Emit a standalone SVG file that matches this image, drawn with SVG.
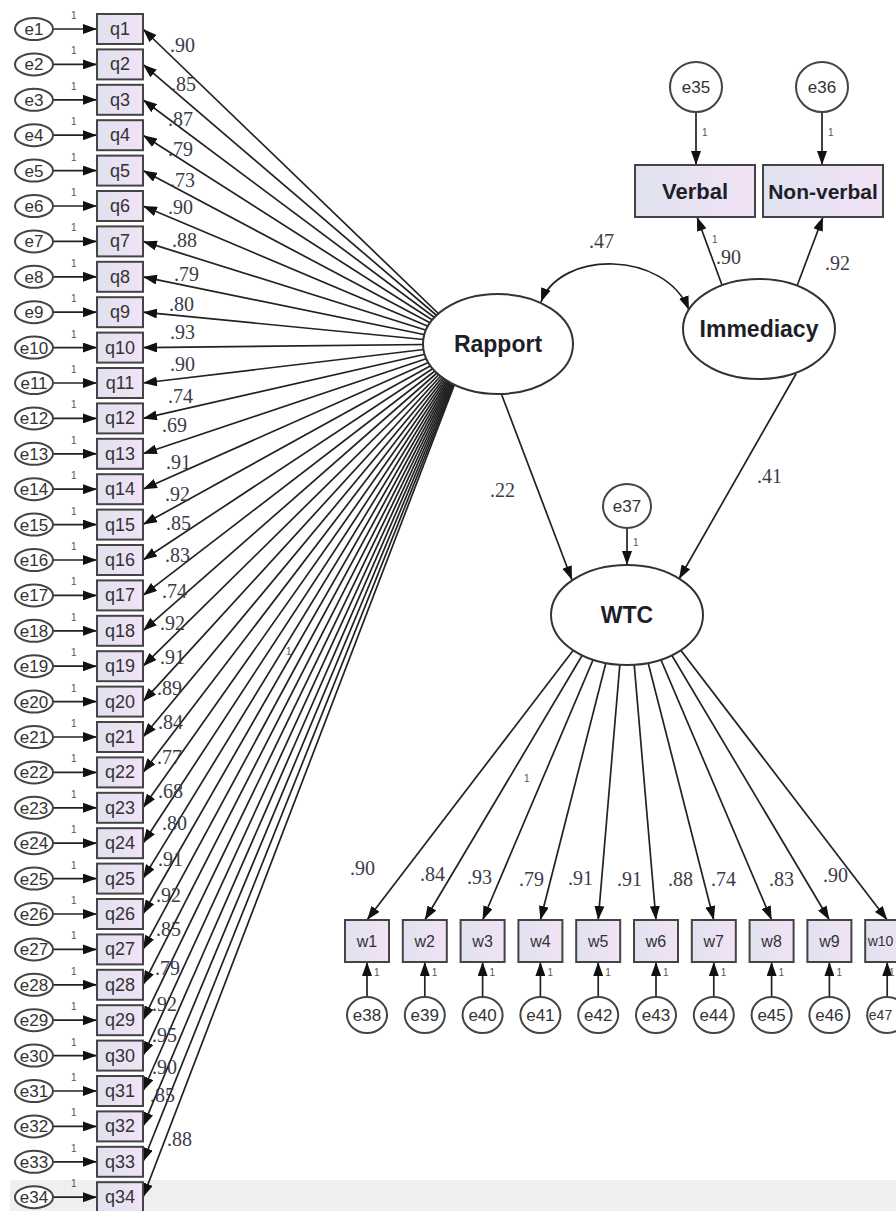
<svg xmlns="http://www.w3.org/2000/svg" width="896" height="1211" viewBox="0 0 896 1211">
<style>
.box{fill:url(#bg);stroke:#444;stroke-width:2}
.err{fill:#fff;stroke:#444;stroke-width:2}
.lat{fill:#fff;stroke:#333;stroke-width:2}
.t{font-family:"Liberation Sans",Arial,sans-serif;fill:#333;text-anchor:middle}
.tq{font-size:18px}
.te{font-size:17px}
.tb{font-weight:bold;fill:#1e1e28;font-size:23px}
.lbl{font-family:"Liberation Serif","Times New Roman",serif;font-size:20px;fill:#3b3b4a}
.one{font-family:"Liberation Sans",Arial,sans-serif;font-size:10px;fill:#555}
.c path{stroke:#222;stroke-width:1.7;fill:none}
</style>
<defs>
<linearGradient id="bg" x1="0" y1="0" x2="1" y2="0"><stop offset="0" stop-color="#dfe2f0"/><stop offset="1" stop-color="#f2e2f6"/></linearGradient>
<marker id="ah" viewBox="0 0 14 10" refX="14" refY="5" markerWidth="14" markerHeight="10" markerUnits="userSpaceOnUse" orient="auto"><path d="M0,0 L14,5 L0,10 z" fill="#111"/></marker>
<marker id="ahs" viewBox="0 0 14 10" refX="14" refY="5" markerWidth="14" markerHeight="10" markerUnits="userSpaceOnUse" orient="auto-start-reverse"><path d="M0,0 L14,5 L0,10 z" fill="#111"/></marker>
</defs>
<rect x="0" y="0" width="896" height="1211" fill="#fff"/>
<rect x="10" y="1180" width="886" height="31" fill="#efefef"/>

<g id="connectors" class="c">
<g marker-end="url(#ah)">
<path d="M53 29H97"/><path d="M53 64.4H97"/><path d="M53 99.8H97"/><path d="M53 135.2H97"/><path d="M53 170.6H97"/><path d="M53 206H97"/><path d="M53 241.4H97"/><path d="M53 276.8H97"/><path d="M53 312.2H97"/><path d="M53 347.6H97"/><path d="M53 383H97"/><path d="M53 418.4H97"/><path d="M53 453.8H97"/><path d="M53 489.2H97"/><path d="M53 524.6H97"/><path d="M53 560H97"/><path d="M53 595.4H97"/><path d="M53 630.8H97"/><path d="M53 666.2H97"/><path d="M53 701.6H97"/><path d="M53 737H97"/><path d="M53 772.4H97"/><path d="M53 807.8H97"/><path d="M53 843.2H97"/><path d="M53 878.6H97"/><path d="M53 914H97"/><path d="M53 949.4H97"/><path d="M53 984.8H97"/><path d="M53 1020.2H97"/><path d="M53 1055.6H97"/><path d="M53 1091H97"/><path d="M53 1126.4H97"/><path d="M53 1161.8H97"/><path d="M53 1197.2H97"/>
</g>
<g marker-end="url(#ah)">
<path d="M470 344L143 29"/><path d="M470 344L143 64.4"/><path d="M470 344L143 99.8"/><path d="M470 344L143 135.2"/><path d="M470 344L143 170.6"/><path d="M470 344L143 206"/><path d="M470 344L143 241.4"/><path d="M470 344L143 276.8"/><path d="M470 344L143 312.2"/><path d="M470 344L143 347.6"/><path d="M470 344L143 383"/><path d="M470 344L143 418.4"/><path d="M470 344L143 453.8"/><path d="M470 344L143 489.2"/><path d="M470 344L143 524.6"/><path d="M470 344L143 560"/><path d="M470 344L143 595.4"/><path d="M470 344L143 630.8"/><path d="M470 344L143 666.2"/><path d="M470 344L143 701.6"/><path d="M470 344L143 737"/><path d="M470 344L143 772.4"/><path d="M470 344L143 807.8"/><path d="M470 344L143 843.2"/><path d="M470 344L143 878.6"/><path d="M470 344L143 914"/><path d="M470 344L143 949.4"/><path d="M470 344L143 984.8"/><path d="M470 344L143 1020.2"/><path d="M470 344L143 1055.6"/><path d="M470 344L143 1091"/><path d="M470 344L143 1126.4"/><path d="M470 344L143 1161.8"/><path d="M470 344L143 1197.2"/>
</g>
<g marker-end="url(#ah)">
<path d="M696 112V165"/><path d="M822 112V165"/>
<path d="M722 285L697 217"/><path d="M797 286L823 217"/>
<path d="M501 393L572 580"/><path d="M796 374L679 579"/>
<path d="M627 528V565"/>
</g>
<path d="M541 302C560 250 665 250 689 310" marker-start="url(#ahs)" marker-end="url(#ahs)"/>
<g marker-end="url(#ah)">
<path d="M627 580L367 920"/><path d="M627 580L424.8 920"/><path d="M627 580L482.6 920"/><path d="M627 580L540.4 920"/><path d="M627 580L598.2 920"/><path d="M627 580L656 920"/><path d="M627 580L713.8 920"/><path d="M627 580L771.6 920"/><path d="M627 580L829.4 920"/><path d="M627 580L887.2 920"/>
</g>
<g marker-end="url(#ah)">
<path d="M367 997V962"/><path d="M424.8 997V962"/><path d="M482.6 997V962"/><path d="M540.4 997V962"/><path d="M598.2 997V962"/><path d="M656 997V962"/><path d="M713.8 997V962"/><path d="M771.6 997V962"/><path d="M829.4 997V962"/><path d="M887.2 997V962"/>
</g>
</g>

<g id="q1" transform="translate(0,29)"><rect class="box" x="97" y="-15" width="46" height="30"/><text class="t tq" x="120" y="6">q1</text></g>
<g id="q2" transform="translate(0,64.4)"><rect class="box" x="97" y="-15" width="46" height="30"/><text class="t tq" x="120" y="6">q2</text></g>
<g id="q3" transform="translate(0,99.8)"><rect class="box" x="97" y="-15" width="46" height="30"/><text class="t tq" x="120" y="6">q3</text></g>
<g id="q4" transform="translate(0,135.2)"><rect class="box" x="97" y="-15" width="46" height="30"/><text class="t tq" x="120" y="6">q4</text></g>
<g id="q5" transform="translate(0,170.6)"><rect class="box" x="97" y="-15" width="46" height="30"/><text class="t tq" x="120" y="6">q5</text></g>
<g id="q6" transform="translate(0,206)"><rect class="box" x="97" y="-15" width="46" height="30"/><text class="t tq" x="120" y="6">q6</text></g>
<g id="q7" transform="translate(0,241.4)"><rect class="box" x="97" y="-15" width="46" height="30"/><text class="t tq" x="120" y="6">q7</text></g>
<g id="q8" transform="translate(0,276.8)"><rect class="box" x="97" y="-15" width="46" height="30"/><text class="t tq" x="120" y="6">q8</text></g>
<g id="q9" transform="translate(0,312.2)"><rect class="box" x="97" y="-15" width="46" height="30"/><text class="t tq" x="120" y="6">q9</text></g>
<g id="q10" transform="translate(0,347.6)"><rect class="box" x="97" y="-15" width="46" height="30"/><text class="t tq" x="120" y="6">q10</text></g>
<g id="q11" transform="translate(0,383)"><rect class="box" x="97" y="-15" width="46" height="30"/><text class="t tq" x="120" y="6">q11</text></g>
<g id="q12" transform="translate(0,418.4)"><rect class="box" x="97" y="-15" width="46" height="30"/><text class="t tq" x="120" y="6">q12</text></g>
<g id="q13" transform="translate(0,453.8)"><rect class="box" x="97" y="-15" width="46" height="30"/><text class="t tq" x="120" y="6">q13</text></g>
<g id="q14" transform="translate(0,489.2)"><rect class="box" x="97" y="-15" width="46" height="30"/><text class="t tq" x="120" y="6">q14</text></g>
<g id="q15" transform="translate(0,524.6)"><rect class="box" x="97" y="-15" width="46" height="30"/><text class="t tq" x="120" y="6">q15</text></g>
<g id="q16" transform="translate(0,560)"><rect class="box" x="97" y="-15" width="46" height="30"/><text class="t tq" x="120" y="6">q16</text></g>
<g id="q17" transform="translate(0,595.4)"><rect class="box" x="97" y="-15" width="46" height="30"/><text class="t tq" x="120" y="6">q17</text></g>
<g id="q18" transform="translate(0,630.8)"><rect class="box" x="97" y="-15" width="46" height="30"/><text class="t tq" x="120" y="6">q18</text></g>
<g id="q19" transform="translate(0,666.2)"><rect class="box" x="97" y="-15" width="46" height="30"/><text class="t tq" x="120" y="6">q19</text></g>
<g id="q20" transform="translate(0,701.6)"><rect class="box" x="97" y="-15" width="46" height="30"/><text class="t tq" x="120" y="6">q20</text></g>
<g id="q21" transform="translate(0,737)"><rect class="box" x="97" y="-15" width="46" height="30"/><text class="t tq" x="120" y="6">q21</text></g>
<g id="q22" transform="translate(0,772.4)"><rect class="box" x="97" y="-15" width="46" height="30"/><text class="t tq" x="120" y="6">q22</text></g>
<g id="q23" transform="translate(0,807.8)"><rect class="box" x="97" y="-15" width="46" height="30"/><text class="t tq" x="120" y="6">q23</text></g>
<g id="q24" transform="translate(0,843.2)"><rect class="box" x="97" y="-15" width="46" height="30"/><text class="t tq" x="120" y="6">q24</text></g>
<g id="q25" transform="translate(0,878.6)"><rect class="box" x="97" y="-15" width="46" height="30"/><text class="t tq" x="120" y="6">q25</text></g>
<g id="q26" transform="translate(0,914)"><rect class="box" x="97" y="-15" width="46" height="30"/><text class="t tq" x="120" y="6">q26</text></g>
<g id="q27" transform="translate(0,949.4)"><rect class="box" x="97" y="-15" width="46" height="30"/><text class="t tq" x="120" y="6">q27</text></g>
<g id="q28" transform="translate(0,984.8)"><rect class="box" x="97" y="-15" width="46" height="30"/><text class="t tq" x="120" y="6">q28</text></g>
<g id="q29" transform="translate(0,1020.2)"><rect class="box" x="97" y="-15" width="46" height="30"/><text class="t tq" x="120" y="6">q29</text></g>
<g id="q30" transform="translate(0,1055.6)"><rect class="box" x="97" y="-15" width="46" height="30"/><text class="t tq" x="120" y="6">q30</text></g>
<g id="q31" transform="translate(0,1091)"><rect class="box" x="97" y="-15" width="46" height="30"/><text class="t tq" x="120" y="6">q31</text></g>
<g id="q32" transform="translate(0,1126.4)"><rect class="box" x="97" y="-15" width="46" height="30"/><text class="t tq" x="120" y="6">q32</text></g>
<g id="q33" transform="translate(0,1161.8)"><rect class="box" x="97" y="-15" width="46" height="30"/><text class="t tq" x="120" y="6">q33</text></g>
<g id="q34" transform="translate(0,1197.2)"><rect class="box" x="97" y="-15" width="46" height="30"/><text class="t tq" x="120" y="6">q34</text></g>

<g id="e1" transform="translate(34,29)"><ellipse class="err" rx="19" ry="11"/><text class="t te" y="6">e1</text><text class="one" x="37" y="-10">1</text></g>
<g id="e2" transform="translate(34,64.4)"><ellipse class="err" rx="19" ry="11"/><text class="t te" y="6">e2</text><text class="one" x="37" y="-10">1</text></g>
<g id="e3" transform="translate(34,99.8)"><ellipse class="err" rx="19" ry="11"/><text class="t te" y="6">e3</text><text class="one" x="37" y="-10">1</text></g>
<g id="e4" transform="translate(34,135.2)"><ellipse class="err" rx="19" ry="11"/><text class="t te" y="6">e4</text><text class="one" x="37" y="-10">1</text></g>
<g id="e5" transform="translate(34,170.6)"><ellipse class="err" rx="19" ry="11"/><text class="t te" y="6">e5</text><text class="one" x="37" y="-10">1</text></g>
<g id="e6" transform="translate(34,206)"><ellipse class="err" rx="19" ry="11"/><text class="t te" y="6">e6</text><text class="one" x="37" y="-10">1</text></g>
<g id="e7" transform="translate(34,241.4)"><ellipse class="err" rx="19" ry="11"/><text class="t te" y="6">e7</text><text class="one" x="37" y="-10">1</text></g>
<g id="e8" transform="translate(34,276.8)"><ellipse class="err" rx="19" ry="11"/><text class="t te" y="6">e8</text><text class="one" x="37" y="-10">1</text></g>
<g id="e9" transform="translate(34,312.2)"><ellipse class="err" rx="19" ry="11"/><text class="t te" y="6">e9</text><text class="one" x="37" y="-10">1</text></g>
<g id="e10" transform="translate(34,347.6)"><ellipse class="err" rx="19" ry="11"/><text class="t te" y="6">e10</text><text class="one" x="37" y="-10">1</text></g>
<g id="e11" transform="translate(34,383)"><ellipse class="err" rx="19" ry="11"/><text class="t te" y="6">e11</text><text class="one" x="37" y="-10">1</text></g>
<g id="e12" transform="translate(34,418.4)"><ellipse class="err" rx="19" ry="11"/><text class="t te" y="6">e12</text><text class="one" x="37" y="-10">1</text></g>
<g id="e13" transform="translate(34,453.8)"><ellipse class="err" rx="19" ry="11"/><text class="t te" y="6">e13</text><text class="one" x="37" y="-10">1</text></g>
<g id="e14" transform="translate(34,489.2)"><ellipse class="err" rx="19" ry="11"/><text class="t te" y="6">e14</text><text class="one" x="37" y="-10">1</text></g>
<g id="e15" transform="translate(34,524.6)"><ellipse class="err" rx="19" ry="11"/><text class="t te" y="6">e15</text><text class="one" x="37" y="-10">1</text></g>
<g id="e16" transform="translate(34,560)"><ellipse class="err" rx="19" ry="11"/><text class="t te" y="6">e16</text><text class="one" x="37" y="-10">1</text></g>
<g id="e17" transform="translate(34,595.4)"><ellipse class="err" rx="19" ry="11"/><text class="t te" y="6">e17</text><text class="one" x="37" y="-10">1</text></g>
<g id="e18" transform="translate(34,630.8)"><ellipse class="err" rx="19" ry="11"/><text class="t te" y="6">e18</text><text class="one" x="37" y="-10">1</text></g>
<g id="e19" transform="translate(34,666.2)"><ellipse class="err" rx="19" ry="11"/><text class="t te" y="6">e19</text><text class="one" x="37" y="-10">1</text></g>
<g id="e20" transform="translate(34,701.6)"><ellipse class="err" rx="19" ry="11"/><text class="t te" y="6">e20</text><text class="one" x="37" y="-10">1</text></g>
<g id="e21" transform="translate(34,737)"><ellipse class="err" rx="19" ry="11"/><text class="t te" y="6">e21</text><text class="one" x="37" y="-10">1</text></g>
<g id="e22" transform="translate(34,772.4)"><ellipse class="err" rx="19" ry="11"/><text class="t te" y="6">e22</text><text class="one" x="37" y="-10">1</text></g>
<g id="e23" transform="translate(34,807.8)"><ellipse class="err" rx="19" ry="11"/><text class="t te" y="6">e23</text><text class="one" x="37" y="-10">1</text></g>
<g id="e24" transform="translate(34,843.2)"><ellipse class="err" rx="19" ry="11"/><text class="t te" y="6">e24</text><text class="one" x="37" y="-10">1</text></g>
<g id="e25" transform="translate(34,878.6)"><ellipse class="err" rx="19" ry="11"/><text class="t te" y="6">e25</text><text class="one" x="37" y="-10">1</text></g>
<g id="e26" transform="translate(34,914)"><ellipse class="err" rx="19" ry="11"/><text class="t te" y="6">e26</text><text class="one" x="37" y="-10">1</text></g>
<g id="e27" transform="translate(34,949.4)"><ellipse class="err" rx="19" ry="11"/><text class="t te" y="6">e27</text><text class="one" x="37" y="-10">1</text></g>
<g id="e28" transform="translate(34,984.8)"><ellipse class="err" rx="19" ry="11"/><text class="t te" y="6">e28</text><text class="one" x="37" y="-10">1</text></g>
<g id="e29" transform="translate(34,1020.2)"><ellipse class="err" rx="19" ry="11"/><text class="t te" y="6">e29</text><text class="one" x="37" y="-10">1</text></g>
<g id="e30" transform="translate(34,1055.6)"><ellipse class="err" rx="19" ry="11"/><text class="t te" y="6">e30</text><text class="one" x="37" y="-10">1</text></g>
<g id="e31" transform="translate(34,1091)"><ellipse class="err" rx="19" ry="11"/><text class="t te" y="6">e31</text><text class="one" x="37" y="-10">1</text></g>
<g id="e32" transform="translate(34,1126.4)"><ellipse class="err" rx="19" ry="11"/><text class="t te" y="6">e32</text><text class="one" x="37" y="-10">1</text></g>
<g id="e33" transform="translate(34,1161.8)"><ellipse class="err" rx="19" ry="11"/><text class="t te" y="6">e33</text><text class="one" x="37" y="-10">1</text></g>
<g id="e34" transform="translate(34,1197.2)"><ellipse class="err" rx="19" ry="11"/><text class="t te" y="6">e34</text><text class="one" x="37" y="-10">1</text></g>

<g id="rapport-loadings" class="lbl">
<text x="170" y="52">.90</text><text x="171" y="91">.85</text><text x="168" y="126">.87</text><text x="168" y="156">.79</text><text x="170" y="187">.73</text>
<text x="168" y="214">.90</text><text x="172" y="247">.88</text><text x="174" y="281">.79</text><text x="169" y="311">.80</text><text x="170" y="339">.93</text>
<text x="170" y="371">.90</text><text x="168" y="403">.74</text><text x="162" y="432">.69</text><text x="166" y="469">.91</text><text x="165" y="501">.92</text>
<text x="166" y="530">.85</text><text x="165" y="562">.83</text><text x="162" y="598">.74</text><text x="160" y="630">.92</text><text x="160" y="664">.91</text>
<text x="157" y="695">.89</text><text x="158" y="729">.84</text><text x="157" y="764">.77</text><text x="158" y="798">.68</text><text x="162" y="830">.80</text>
<text x="158" y="866">.91</text><text x="156" y="902">.92</text><text x="156" y="936">.85</text><text x="155" y="975">.79</text><text x="152" y="1011">.92</text>
<text x="152" y="1042">.95</text><text x="152" y="1074">.90</text><text x="150" y="1102">.85</text><text x="167" y="1146">.88</text>
</g>
<text class="one" x="286" y="655">1</text>

<g id="Rapport"><ellipse class="lat" cx="498" cy="344" rx="75" ry="50"/><text class="t tb" x="498" y="352">Rapport</text></g>
<g id="Immediacy"><ellipse class="lat" cx="759" cy="329" rx="76" ry="50"/><text class="t tb" x="759" y="337">Immediacy</text></g>
<g id="WTC"><ellipse class="lat" cx="627" cy="615" rx="76" ry="50"/><text class="t tb" x="627" y="623">WTC</text></g>

<g id="e35"><ellipse class="err" cx="696" cy="87" rx="26" ry="25"/><text class="t te" x="696" y="93">e35</text><text class="one" x="702" y="136">1</text></g>
<g id="e36"><ellipse class="err" cx="822" cy="87" rx="26" ry="25"/><text class="t te" x="822" y="93">e36</text><text class="one" x="828" y="136">1</text></g>
<g id="Verbal"><rect class="box" x="635" y="165" width="120" height="52"/><text class="t" x="695" y="199" style="font-weight:bold;font-size:22px;fill:#1e1e28">Verbal</text></g>
<g id="Non-verbal"><rect class="box" x="763" y="165" width="120" height="52"/><text class="t" x="823" y="199" style="font-weight:bold;font-size:21px;fill:#1e1e28">Non-verbal</text></g>
<g id="e37"><ellipse class="err" cx="627" cy="506" rx="24" ry="22"/><text class="t te" x="627" y="512">e37</text><text class="one" x="633" y="546">1</text></g>

<g id="path-labels" class="lbl">
<text x="589" y="248">.47</text>
<text x="716" y="264">.90</text>
<text x="825" y="270">.92</text>
<text x="490" y="497">.22</text>
<text x="757" y="483">.41</text>
</g>
<text class="one" x="712" y="243">1</text>

<g id="w1"><rect class="box" x="345" y="920" width="44" height="42"/><text class="t" x="367" y="947" style="font-size:16px">w1</text></g>
<g id="w2"><rect class="box" x="402.8" y="920" width="44" height="42"/><text class="t" x="424.8" y="947" style="font-size:16px">w2</text></g>
<g id="w3"><rect class="box" x="460.6" y="920" width="44" height="42"/><text class="t" x="482.6" y="947" style="font-size:16px">w3</text></g>
<g id="w4"><rect class="box" x="518.4" y="920" width="44" height="42"/><text class="t" x="540.4" y="947" style="font-size:16px">w4</text></g>
<g id="w5"><rect class="box" x="576.2" y="920" width="44" height="42"/><text class="t" x="598.2" y="947" style="font-size:16px">w5</text></g>
<g id="w6"><rect class="box" x="634" y="920" width="44" height="42"/><text class="t" x="656" y="947" style="font-size:16px">w6</text></g>
<g id="w7"><rect class="box" x="691.8" y="920" width="44" height="42"/><text class="t" x="713.8" y="947" style="font-size:16px">w7</text></g>
<g id="w8"><rect class="box" x="749.6" y="920" width="44" height="42"/><text class="t" x="771.6" y="947" style="font-size:16px">w8</text></g>
<g id="w9"><rect class="box" x="807.4" y="920" width="44" height="42"/><text class="t" x="829.4" y="947" style="font-size:16px">w9</text></g>
<g id="w10"><rect class="box" x="865.2" y="920" width="44" height="42"/><text class="t" x="880.5" y="946" style="font-size:14px">w10</text></g>

<g id="e38"><ellipse class="err" cx="367" cy="1015" rx="20" ry="18"/><text class="t te" x="367" y="1021">e38</text><text class="one" x="374" y="976">1</text></g>
<g id="e39"><ellipse class="err" cx="424.8" cy="1015" rx="20" ry="18"/><text class="t te" x="424.8" y="1021">e39</text><text class="one" x="431.8" y="976">1</text></g>
<g id="e40"><ellipse class="err" cx="482.6" cy="1015" rx="20" ry="18"/><text class="t te" x="482.6" y="1021">e40</text><text class="one" x="489.6" y="976">1</text></g>
<g id="e41"><ellipse class="err" cx="540.4" cy="1015" rx="20" ry="18"/><text class="t te" x="540.4" y="1021">e41</text><text class="one" x="547.4" y="976">1</text></g>
<g id="e42"><ellipse class="err" cx="598.2" cy="1015" rx="20" ry="18"/><text class="t te" x="598.2" y="1021">e42</text><text class="one" x="605.2" y="976">1</text></g>
<g id="e43"><ellipse class="err" cx="656" cy="1015" rx="20" ry="18"/><text class="t te" x="656" y="1021">e43</text><text class="one" x="663" y="976">1</text></g>
<g id="e44"><ellipse class="err" cx="713.8" cy="1015" rx="20" ry="18"/><text class="t te" x="713.8" y="1021">e44</text><text class="one" x="720.8" y="976">1</text></g>
<g id="e45"><ellipse class="err" cx="771.6" cy="1015" rx="20" ry="18"/><text class="t te" x="771.6" y="1021">e45</text><text class="one" x="778.6" y="976">1</text></g>
<g id="e46"><ellipse class="err" cx="829.4" cy="1015" rx="20" ry="18"/><text class="t te" x="829.4" y="1021">e46</text><text class="one" x="836.4" y="976">1</text></g>
<g id="e47"><ellipse class="err" cx="887.2" cy="1015" rx="20" ry="18"/><text class="t" x="880.5" y="1020" style="font-size:14px">e47</text><text class="one" x="889" y="976">1</text></g>

<g id="wtc-loadings" class="lbl">
<text x="350" y="875">.90</text><text x="420" y="881">.84</text><text x="467" y="884">.93</text><text x="519" y="886">.79</text><text x="568" y="885">.91</text>
<text x="617" y="886">.91</text><text x="668" y="886">.88</text><text x="711" y="886">.74</text><text x="769" y="886">.83</text><text x="823" y="882">.90</text>
</g>
<text class="one" x="524" y="782">1</text>
</svg>
